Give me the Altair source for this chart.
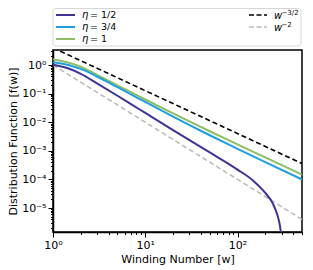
import altair as alt
import pandas as pd

# ---- data ----
w_eta1 = [1, 1.5, 2, 3, 5, 7, 10, 20, 50, 100, 200, 500]
f_eta1 = [1.549, 1.191, 0.869, 0.454, 0.1954, 0.1122, 0.0622, 0.02023, 4.84e-3,
          1.687e-3, 5.87e-4, 1.486e-4]

w_eta34 = [1, 1.5, 2, 3, 5, 7, 10, 20, 50, 100, 200, 500]
f_eta34 = [1.259, 0.986, 0.730, 0.397, 0.168, 0.0944, 0.0512, 0.01574, 3.50e-3,
           1.178e-3, 4.02e-4, 1.0e-4]

w_eta12 = [1, 1.5, 2, 3, 5, 7, 10, 20, 50, 100, 150, 200, 240, 270, 290, 300, 310]
f_eta12 = [1.023, 0.740, 0.494, 0.2286, 0.0843, 0.0431, 0.0211, 5.27e-3, 8.83e-4,
           2.21e-4, 8.69e-5, 3.37e-5, 1.48e-5, 5.77e-6, 2.12e-6, 8.22e-7, 1.15e-7]

w_ref32 = [1, 500]
f_ref32 = [4.0, 3.6e-4]
w_ref2 = [1, 500]
f_ref2 = [1.0, 4.0e-6]

x_domain = [1, 500]
y_domain = [1.45e-6, 3.35]

x_ticks = [m * 10 ** k for k in range(0, 3) for m in range(1, 10) if m * 10 ** k <= 500]
y_ticks = [m * 10.0 ** k for k in range(-6, 1) for m in range(1, 10)
           if y_domain[0] <= m * 10.0 ** k <= y_domain[1]]

FONT = "DejaVu Sans"
decade = "abs(log(datum.value)/LN10 - round(log(datum.value)/LN10)) < 1e-6"
label_expr = (decade + " ? '10' + (datum.value < 0.5 ? '\u207b' : '') + "
              "['\u2070','\u00b9','\u00b2','\u00b3','\u2074','\u2075','\u2076']"
              "[abs(round(log(datum.value)/LN10))] : ''")
tick_size = {"condition": {"test": decade, "value": 5}, "value": 2.5}

xscale = alt.Scale(type="log", domain=x_domain, nice=False)
yscale = alt.Scale(type="log", domain=y_domain, nice=False)

common = dict(labelExpr=label_expr, tickSize=tick_size, labelOverlap=False,
              labelFlush=False, grid=False, labelFont=FONT, titleFont=FONT,
              labelFontSize=11, titleFontSize=11, titleFontWeight="normal",
              labelColor="black", titleColor="black", domainColor="black",
              tickColor="black", domainWidth=1.5, tickWidth=1, labelPadding=2,
              titlePadding=3)
xaxis = alt.Axis(values=x_ticks, title="Winding Number [w]", **common)
yaxis = alt.Axis(values=y_ticks, title="Distribution Function [f(w)]", **common)


def line(ws, fs, color, width, dash=None):
    df = pd.DataFrame({"w": ws, "f": fs})
    kw = dict(color=color, strokeWidth=width, clip=True, interpolate="monotone")
    if dash:
        kw["strokeDash"] = dash
    return alt.Chart(df).mark_line(**kw).encode(
        x=alt.X("w:Q", scale=xscale, axis=xaxis),
        y=alt.Y("f:Q", scale=yscale, axis=yaxis),
    )


C12, C34, C1 = "#3d3496", "#1f9fe0", "#8dbf62"
CBLK, CGRY = "#000000", "#b9b9b9"

layers = [
    line(w_ref2, f_ref2, CGRY, 1.5, [5, 3]),
    line(w_ref32, f_ref32, CBLK, 1.6, [5, 3]),
    line(w_eta1, f_eta1, C1, 2),
    line(w_eta34, f_eta34, C34, 2),
    line(w_eta12, f_eta12, C12, 2),
]

# ---- legend drawn by hand (above the plot area) ----
one = pd.DataFrame({"a": [0]})
leg = [alt.Chart(one).mark_rect(fill="white", stroke="#d6d6d6", strokeWidth=1,
                                cornerRadius=3).encode(
    x=alt.value(0), x2=alt.value(248), y=alt.value(-41.5), y2=alt.value(-4))]

rows = [(-35, C12, "1/2"), (-23, C34, "3/4"), (-11, C1, "1")]
for yy, col, txt in rows:
    leg.append(alt.Chart(one).mark_rule(color=col, strokeWidth=2).encode(
        x=alt.value(3), x2=alt.value(22), y=alt.value(yy)))
    leg.append(alt.Chart(one).mark_text(text="\u03b7", font=FONT, fontSize=10,
                                        fontStyle="italic", align="left",
                                        baseline="middle").encode(
        x=alt.value(29), y=alt.value(yy)))
    leg.append(alt.Chart(one).mark_text(text="= " + txt, font=FONT, fontSize=9.5,
                                        align="left", baseline="middle").encode(
        x=alt.value(37), y=alt.value(yy)))

rrows = [(-35, CBLK, "\u22123/2"), (-23, CGRY, "\u22122")]
for yy, col, sup in rrows:
    leg.append(alt.Chart(one).mark_rule(color=col, strokeWidth=1.6,
                                        strokeDash=[5, 2.5]).encode(
        x=alt.value(196), x2=alt.value(214), y=alt.value(yy)))
    leg.append(alt.Chart(one).mark_text(text="w", font=FONT, fontSize=10,
                                        fontStyle="italic", align="left",
                                        baseline="middle").encode(
        x=alt.value(221), y=alt.value(yy + 1)))
    leg.append(alt.Chart(one).mark_text(text=sup, font=FONT, fontSize=7,
                                        align="left", baseline="middle").encode(
        x=alt.value(228.5), y=alt.value(yy - 2.5)))

chart = alt.layer(*layers, *leg).properties(
    width=249, height=182,
    autosize=alt.AutoSizeParams(type="none"),
    padding={"left": 45, "top": 42, "right": 3, "bottom": 36},
).configure_view(stroke="black", strokeWidth=1.5)

chart.save("out.html", embed_options={"renderer": "svg", "actions": False})
